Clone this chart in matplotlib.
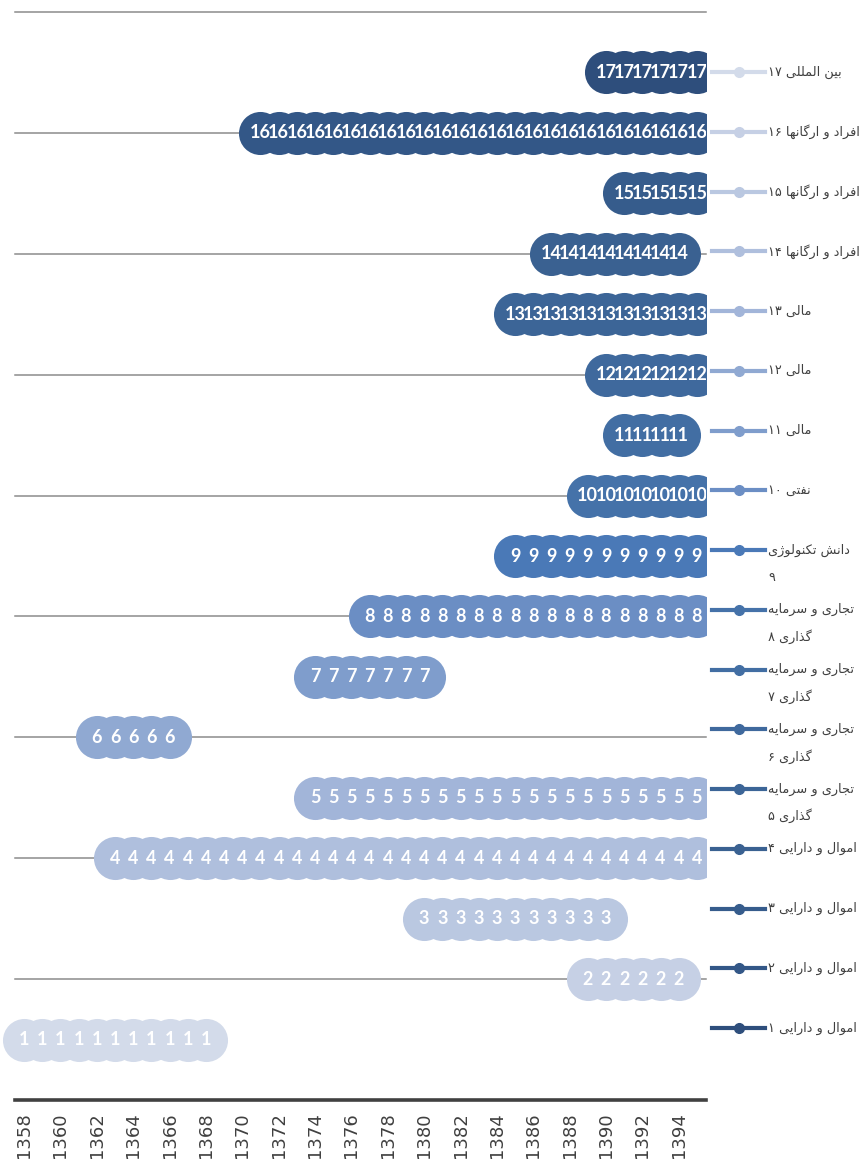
import matplotlib
matplotlib.use("Agg")
import matplotlib.pyplot as plt
from matplotlib.patches import Rectangle
from matplotlib.lines import Line2D

# years covered by each series (series k sits on row k)
years_1 = [1358, 1359, 1360, 1361, 1362, 1363, 1364, 1365, 1366, 1367, 1368]
years_2 = [1389, 1390, 1391, 1392, 1393, 1394]
years_3 = [1380, 1381, 1382, 1383, 1384, 1385, 1386, 1387, 1388, 1389, 1390]
years_4 = [1363, 1364, 1365, 1366, 1367, 1368, 1369, 1370, 1371, 1372, 1373,
           1374, 1375, 1376, 1377, 1378, 1379, 1380, 1381, 1382, 1383, 1384,
           1385, 1386, 1387, 1388, 1389, 1390, 1391, 1392, 1393, 1394, 1395]
years_5 = [1374, 1375, 1376, 1377, 1378, 1379, 1380, 1381, 1382, 1383, 1384,
           1385, 1386, 1387, 1388, 1389, 1390, 1391, 1392, 1393, 1394, 1395]
years_6 = [1362, 1363, 1364, 1365, 1366]
years_7 = [1374, 1375, 1376, 1377, 1378, 1379, 1380]
years_8 = [1377, 1378, 1379, 1380, 1381, 1382, 1383, 1384, 1385, 1386, 1387,
           1388, 1389, 1390, 1391, 1392, 1393, 1394, 1395]
years_9 = [1385, 1386, 1387, 1388, 1389, 1390, 1391, 1392, 1393, 1394, 1395]
years_10 = [1389, 1390, 1391, 1392, 1393, 1394, 1395]
years_11 = [1391, 1392, 1393, 1394]
years_12 = [1390, 1391, 1392, 1393, 1394, 1395]
years_13 = [1385, 1386, 1387, 1388, 1389, 1390, 1391, 1392, 1393, 1394, 1395]
years_14 = [1387, 1388, 1389, 1390, 1391, 1392, 1393, 1394]
years_15 = [1391, 1392, 1393, 1394, 1395]
years_16 = [1371, 1372, 1373, 1374, 1375, 1376, 1377, 1378, 1379, 1380, 1381,
            1382, 1383, 1384, 1385, 1386, 1387, 1388, 1389, 1390, 1391, 1392,
            1393, 1394, 1395]
years_17 = [1390, 1391, 1392, 1393, 1394, 1395]

series_years = [years_1, years_2, years_3, years_4, years_5, years_6, years_7,
                years_8, years_9, years_10, years_11, years_12, years_13,
                years_14, years_15, years_16, years_17]

legend_names = [
    "اموال و دارایی ۱", "اموال و دارایی ۲", "اموال و دارایی ۳", "اموال و دارایی ۴",
    "تجاری و سرمایه\nگذاری ۵", "تجاری و سرمایه\nگذاری ۶",
    "تجاری و سرمایه\nگذاری ۷", "تجاری و سرمایه\nگذاری ۸",
    "دانش تکنولوژی\n۹", "نفتی ۱۰", "مالی ۱۱", "مالی ۱۲", "مالی ۱۳",
    "افراد و ارگانها ۱۴", "افراد و ارگانها ۱۵", "افراد و ارگانها ۱۶",
    "بین المللی ۱۷",
]

tick_years = [1358, 1360, 1362, 1364, 1366, 1368, 1370, 1372, 1374, 1376,
              1378, 1380, 1382, 1384, 1386, 1388, 1390, 1392, 1394]

colors = ["#d3dbea", "#c6d0e5", "#bac8e1", "#afbfdd", "#a2b5d9", "#90a9d2",
          "#7f9dcc", "#6b8ec4", "#4a79b7", "#4572a9", "#426ea3", "#3f699d",
          "#3c6597", "#3a6191", "#365c8c", "#335787", "#2e4e7c"]

# --- minimal Persian shaping (matplotlib has no bidi / joining support) ---
FORMS = {  # isolated, final, initial, medial
    "ا": ("\uFE8D", "\uFE8E", None, None),
    "ب": ("\uFE8F", "\uFE90", "\uFE91", "\uFE92"),
    "ت": ("\uFE95", "\uFE96", "\uFE97", "\uFE98"),
    "ج": ("\uFE9D", "\uFE9E", "\uFE9F", "\uFEA0"),
    "د": ("\uFEA9", "\uFEAA", None, None),
    "ذ": ("\uFEAB", "\uFEAC", None, None),
    "ر": ("\uFEAD", "\uFEAE", None, None),
    "ژ": ("\uFB8A", "\uFB8B", None, None),
    "س": ("\uFEB1", "\uFEB2", "\uFEB3", "\uFEB4"),
    "ش": ("\uFEB5", "\uFEB6", "\uFEB7", "\uFEB8"),
    "ف": ("\uFED1", "\uFED2", "\uFED3", "\uFED4"),
    "ک": ("\uFB8E", "\uFB8F", "\uFB90", "\uFB91"),
    "گ": ("\uFB92", "\uFB93", "\uFB94", "\uFB95"),
    "ل": ("\uFEDD", "\uFEDE", "\uFEDF", "\uFEE0"),
    "م": ("\uFEE1", "\uFEE2", "\uFEE3", "\uFEE4"),
    "ن": ("\uFEE5", "\uFEE6", "\uFEE7", "\uFEE8"),
    "ه": ("\uFEE9", "\uFEEA", "\uFEEB", "\uFEEC"),
    "و": ("\uFEED", "\uFEEE", None, None),
    "ی": ("\uFBFC", "\uFBFD", "\uFBFE", "\uFBFF"),
}


def shape_word(word):
    out = []
    for i, c in enumerate(word):
        if c not in FORMS:
            out.append(c)
            continue
        prev = word[i - 1] if i > 0 else None
        nxt = word[i + 1] if i + 1 < len(word) else None
        join_prev = prev in FORMS and FORMS[prev][2] is not None
        join_next = nxt in FORMS and FORMS[c][2] is not None
        iso, fin, ini, med = FORMS[c]
        if join_prev and join_next:
            out.append(med)
        elif join_prev:
            out.append(fin)
        elif join_next:
            out.append(ini)
        else:
            out.append(iso)
    return "".join(out)


def rtl(line):
    words = []
    for w in line.split(" "):
        if all(ch in "۰۱۲۳۴۵۶۷۸۹" for ch in w):
            words.append(w)
        else:
            words.append(shape_word(w)[::-1])
    return " ".join(reversed(words))


W, H = 865, 1160
fig = plt.figure(figsize=(W / 100, H / 100), dpi=100)
ax = fig.add_axes([15 / W, 60 / H, 691 / W, 1088 / H])
ax.set_xlim(1357.5, 1395.5)
ax.set_ylim(0, 18)

# clip only on the right (plot area edge), leave room on the left
clip = Rectangle((-0.05, -0.05), 1.05, 1.1, transform=ax.transAxes,
                 facecolor="none", edgecolor="none")
ax.add_patch(clip)

for k, yrs in enumerate(series_years, start=1):
    ln, = ax.plot(yrs, [k] * len(yrs), "o", ms=31, color=colors[k - 1],
                  mec="none", ls="none", zorder=2, clip_on=True)
    ln.set_clip_path(clip)

for k, yrs in enumerate(series_years, start=1):
    for yr in yrs:
        t = ax.text(yr, k, str(k), ha="center", va="center", color="white",
                    fontsize=13, fontweight="bold", family="Lato", zorder=3,
                    clip_on=True)
        t.set_clip_path(clip)

ax.set_yticks([2, 4, 6, 8, 10, 12, 14, 16, 18])
ax.yaxis.grid(True, color="#8c8c8c", linewidth=1.1, zorder=0)
ax.set_axisbelow(True)
for gl in ax.get_ygridlines():
    gl.set_clip_on(False)
ax.tick_params(axis="y", left=False, labelleft=False)

ax.set_xticks(tick_years)
ax.set_xticklabels([str(y) for y in tick_years], rotation=90, fontsize=13,
                   color="#404040", va="top")
ax.tick_params(axis="x", length=0, pad=9)

for side in ["top", "right", "left"]:
    ax.spines[side].set_visible(False)
ax.spines["bottom"].set_color("#404040")
ax.spines["bottom"].set_linewidth(2.6)

# legend drawn by hand, entries top-down from 17 to 1
for k in range(17, 0, -1):
    py = 72 + (17 - k) * 59.75
    fy = 1 - py / H
    c = colors[17 - k]
    fig.add_artist(Line2D([712 / W, 765 / W], [fy, fy], color=c, lw=3,
                          transform=fig.transFigure))
    fig.add_artist(Line2D([738.5 / W], [fy], marker="o", ms=7, color=c,
                          transform=fig.transFigure))
    for j, part in enumerate(legend_names[k - 1].split("\n")):
        fig.text(768 / W, 1 - (py + j * 27) / H, rtl(part), ha="left",
                 va="center", fontsize=9.3, color="#404040",
                 family="DejaVu Sans")

fig.savefig("out.png", dpi=100)
